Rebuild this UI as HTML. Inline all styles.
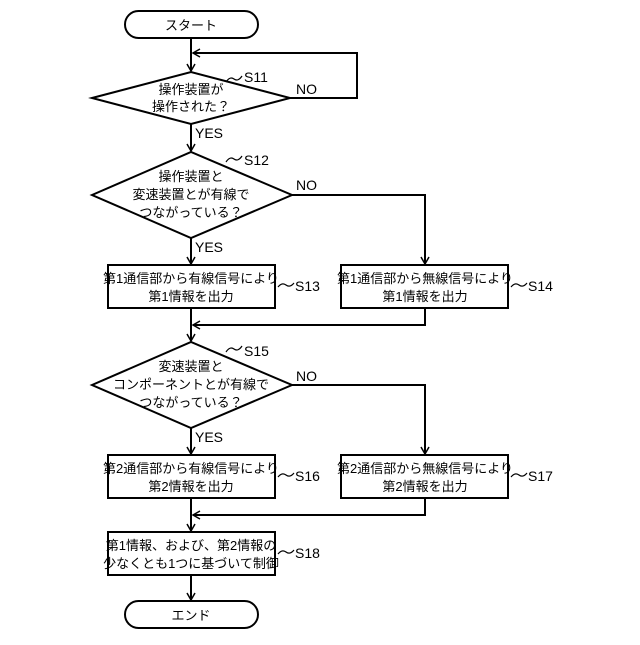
<!DOCTYPE html>
<html><head><meta charset="utf-8"><style>body{margin:0;background:#fff}</style></head><body>
<svg width="640" height="640" viewBox="0 0 640 640" xmlns="http://www.w3.org/2000/svg" font-family="'Liberation Sans','Noto Sans CJK JP',sans-serif" font-size="13" fill="#000">
<defs><marker id="a" markerWidth="10" markerHeight="10" refX="8" refY="5" orient="auto" markerUnits="userSpaceOnUse"><path d="M1,1 L8,5 L1,9" fill="none" stroke="#000" stroke-width="1.5"/></marker></defs>
<g stroke="#000" stroke-width="2" fill="none">
<rect x="125" y="11" width="133" height="27" rx="13.5"/>
<rect x="125" y="601" width="133" height="27" rx="13.5"/>
<polygon points="92,98 191,72 290,98 191,124"/>
<polygon points="92,195 191,152 292,195 191,238"/>
<polygon points="92,385 191,342 292,385 191,428"/>
<rect x="108" y="265" width="167" height="43"/>
<rect x="341" y="265" width="167" height="43"/>
<rect x="108" y="455" width="167" height="43"/>
<rect x="341" y="455" width="167" height="43"/>
<rect x="108" y="532" width="167" height="43"/>
<line x1="191" y1="38" x2="191" y2="71" marker-end="url(#a)"/>
<polyline points="290,98 357,98 357,53 193,53" marker-end="url(#a)"/>
<line x1="191" y1="124" x2="191" y2="151" marker-end="url(#a)"/>
<line x1="191" y1="238" x2="191" y2="264" marker-end="url(#a)"/>
<polyline points="292,195 425,195 425,264" marker-end="url(#a)"/>
<line x1="191" y1="308" x2="191" y2="341" marker-end="url(#a)"/>
<polyline points="425,308 425,325 193,325" marker-end="url(#a)"/>
<line x1="191" y1="428" x2="191" y2="454" marker-end="url(#a)"/>
<polyline points="292,385 425,385 425,454" marker-end="url(#a)"/>
<line x1="191" y1="498" x2="191" y2="531" marker-end="url(#a)"/>
<polyline points="425,498 425,515 193,515" marker-end="url(#a)"/>
<line x1="191" y1="575" x2="191" y2="600" marker-end="url(#a)"/>
</g>
<g stroke="#000" stroke-width="1.2" fill="none">
<path d="M226,82 q4,-6 8,-3 q4,3 8,-3"/>
<path d="M226,162 q4,-6 8,-3 q4,3 8,-3"/>
<path d="M226,352 q4,-6 8,-3 q4,3 8,-3"/>
<path d="M278,287 q4,-5 8,-2 q4,3 8,-2"/>
<path d="M511,287 q4,-5 8,-2 q4,3 8,-2"/>
<path d="M278,477 q4,-5 8,-2 q4,3 8,-2"/>
<path d="M511,477 q4,-5 8,-2 q4,3 8,-2"/>
<path d="M278,554 q4,-5 8,-2 q4,3 8,-2"/>
</g>
<g font-size="14">
<text x="244" y="82">S11</text><text x="244" y="165">S12</text><text x="244" y="356">S15</text>
<text x="295" y="291">S13</text><text x="528" y="291">S14</text>
<text x="295" y="481">S16</text><text x="528" y="481">S17</text>
<text x="295" y="558">S18</text>
<text x="296" y="94">NO</text><text x="296" y="190">NO</text><text x="296" y="381">NO</text>
<text x="195" y="138">YES</text><text x="195" y="252">YES</text><text x="195" y="442">YES</text>
</g>
<g text-anchor="middle">
<text x="191" y="30">スタート</text>
<text x="191" y="620">エンド</text>
<text x="191" y="94">操作装置が</text><text x="191" y="111">操作された？</text>
<text x="191" y="181">操作装置と</text><text x="191" y="199">変速装置とが有線で</text><text x="191" y="217">つながっている？</text>
<text x="191" y="371">変速装置と</text><text x="191" y="389">コンポーネントとが有線で</text><text x="191" y="407">つながっている？</text>
<text x="191" y="283">第1通信部から有線信号により</text><text x="191" y="301">第1情報を出力</text>
<text x="425" y="283">第1通信部から無線信号により</text><text x="425" y="301">第1情報を出力</text>
<text x="191" y="473">第2通信部から有線信号により</text><text x="191" y="491">第2情報を出力</text>
<text x="425" y="473">第2通信部から無線信号により</text><text x="425" y="491">第2情報を出力</text>
<text x="191" y="550">第1情報、および、第2情報の</text><text x="191" y="568">少なくとも1つに基づいて制御</text>
</g>
</svg>
</body></html>
